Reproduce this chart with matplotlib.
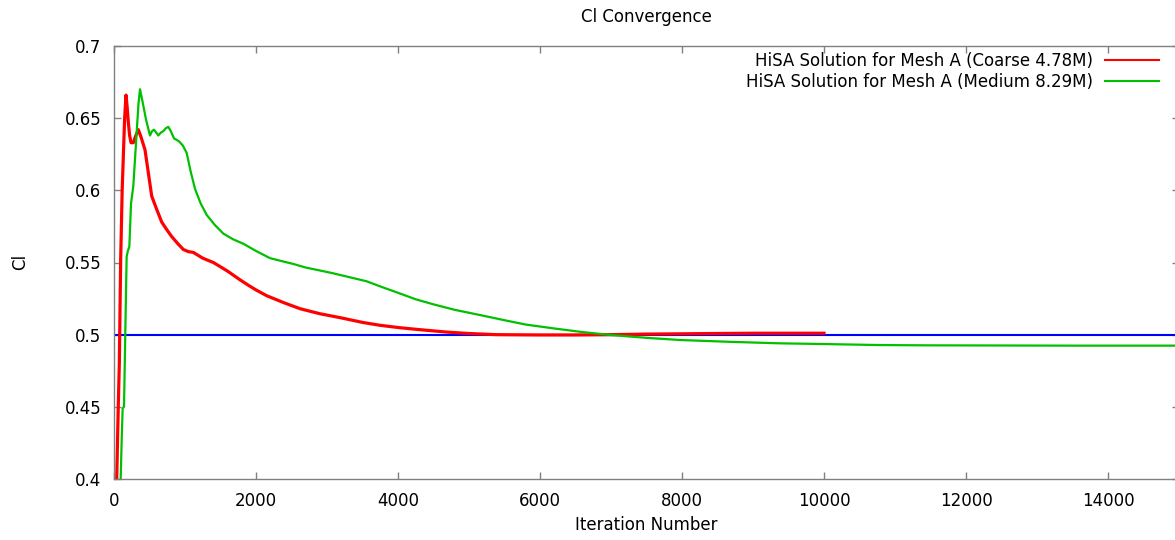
import numpy as np
import matplotlib.pyplot as plt

# Cl history
coarse_iter = [20, 38, 60, 75, 94, 115, 131, 150, 169, 185, 202, 220, 240, 272, 300,
               343, 380, 437, 484, 531, 600, 672, 740, 812, 900, 977, 1050, 1117, 1250,
               1399, 1500, 1600, 1775, 1900, 2000, 2150, 2300, 2400, 2620, 2900, 3183,
               3500, 3746, 4028, 4300, 4685, 5000, 5390, 6000, 6500, 7000, 7500, 8000,
               8437, 9000, 9500, 10000]
coarse_cl = [0.35, 0.40, 0.45, 0.48, 0.552, 0.60, 0.623, 0.650, 0.666, 0.658, 0.647, 0.638,
             0.633, 0.633, 0.637, 0.642, 0.637, 0.628, 0.612, 0.596, 0.587, 0.578, 0.573,
             0.568, 0.563, 0.559, 0.5575, 0.557, 0.553, 0.550, 0.547, 0.544, 0.538, 0.534,
             0.531, 0.527, 0.524, 0.522, 0.518, 0.5145, 0.5118, 0.5085, 0.5065, 0.5048,
             0.5035, 0.5018, 0.5008, 0.5, 0.4998, 0.4998, 0.5, 0.5004, 0.5006, 0.5008,
             0.501, 0.501, 0.501]

medium_iter = [60, 94, 110, 122, 141, 159, 178, 195, 216, 240, 272, 300, 319, 345, 366,
               400, 451, 507, 535, 563, 595, 624, 660, 695, 730, 765, 800, 845, 915, 970,
               1023, 1080, 1141, 1220, 1305, 1420, 1540, 1680, 1822, 2000, 2197, 2400,
               2525, 2700, 2800, 3089, 3300, 3558, 3746, 4028, 4250, 4500, 4800, 5155,
               5500, 5800, 6200, 6563, 6986, 7500, 7972, 8700, 9380, 10000, 10789, 11500,
               12500, 13500, 15000]
medium_cl = [0.35, 0.40, 0.43, 0.449, 0.450, 0.501, 0.554, 0.558, 0.561, 0.591, 0.603,
             0.625, 0.640, 0.660, 0.670, 0.662, 0.649, 0.638, 0.641, 0.642, 0.640, 0.638,
             0.640, 0.641, 0.643, 0.644, 0.641, 0.636, 0.634, 0.631, 0.626, 0.613, 0.601,
             0.591, 0.583, 0.576, 0.570, 0.566, 0.563, 0.558, 0.553, 0.5505, 0.549, 0.5465,
             0.5455, 0.5425, 0.540, 0.537, 0.5335, 0.5285, 0.5245, 0.521, 0.5172, 0.5136,
             0.510, 0.507, 0.5043, 0.502, 0.4998, 0.4978, 0.4963, 0.495, 0.494, 0.4935,
             0.4928, 0.4926, 0.4925, 0.4924, 0.4924]

target_cl = 0.5
xticks = [0, 2000, 4000, 6000, 8000, 10000, 12000, 14000]
yticks = [0.4, 0.45, 0.5, 0.55, 0.6, 0.65, 0.7]

plt.rcParams['font.family'] = 'DejaVu Sans'
plt.rcParams['font.size'] = 12

fig = plt.figure(figsize=(11.75, 5.4), dpi=100)
W, H = 1175, 540
ax = fig.add_axes([114 / W, 1 - 479 / H, (1179 - 114) / W, (479 - 46) / H])

ax.axhline(target_cl, color='#0000ff', lw=1.5)
ax.plot(coarse_iter, coarse_cl, color='#ff0000', lw=2.3,
        label='HiSA Solution for Mesh A (Coarse 4.78M)')
ax.plot(medium_iter, medium_cl, color='#00c000', lw=1.6,
        label='HiSA Solution for Mesh A (Medium 8.29M)')

ax.set_xlim(0, 15000)
ax.set_ylim(0.4, 0.7)
ax.set_xticks(xticks)
ax.set_yticks(yticks)
ax.set_yticklabels(['%g' % v for v in yticks])
ax.tick_params(direction='in', length=5, width=1, color='#808080',
               top=True, right=True, pad=9)
for s in ax.spines.values():
    s.set_color('#808080')
    s.set_linewidth(1)

leg = ax.legend(loc='upper right', bbox_to_anchor=(1159 / W, 1 - 52 / H),
                bbox_transform=fig.transFigure, frameon=False, markerfirst=False,
                borderpad=0, borderaxespad=0, handlelength=3.25, handletextpad=0.72,
                labelspacing=0.2)
for line in leg.get_lines():
    line.set_linewidth(1.5)

fig.text(646 / W, 1 - 17 / H, 'Cl Convergence', ha='center', va='center')
fig.text(646 / W, 1 - 525 / H, 'Iteration Number', ha='center', va='center')
fig.text(20 / W, 1 - 262 / H, 'Cl', ha='center', va='center', rotation=90)

fig.savefig('out.png', dpi=100)
